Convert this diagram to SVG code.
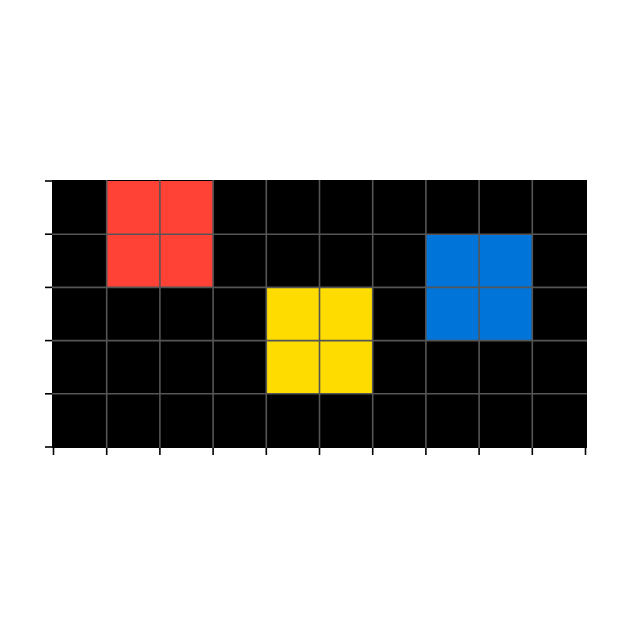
<svg xmlns="http://www.w3.org/2000/svg" width="629" height="629" viewBox="0 0 629 629">
<style>
.grid line{stroke:#555555;stroke-width:1.6}
.ticks line{stroke:#000000;stroke-width:1.6}
</style>
<rect width="629" height="629" fill="#ffffff"/>
<rect x="52" y="180" width="535" height="268" fill="#000000"/>
<g id="red">
<rect x="106.7" y="181" width="106.4" height="106.4" fill="#FF4136"/>
</g>
<g id="yellow">
<rect x="266.3" y="287.4" width="106.4" height="106.4" fill="#FFDC00"/>
</g>
<g id="blue">
<rect x="425.9" y="234.2" width="106.4" height="106.4" fill="#0074D9"/>
</g>
<g class="grid">
<line x1="106.7" y1="180" x2="106.7" y2="448"/>
<line x1="159.9" y1="180" x2="159.9" y2="448"/>
<line x1="213.1" y1="180" x2="213.1" y2="448"/>
<line x1="266.3" y1="180" x2="266.3" y2="448"/>
<line x1="319.5" y1="180" x2="319.5" y2="448"/>
<line x1="372.7" y1="180" x2="372.7" y2="448"/>
<line x1="425.9" y1="180" x2="425.9" y2="448"/>
<line x1="479.1" y1="180" x2="479.1" y2="448"/>
<line x1="532.3" y1="180" x2="532.3" y2="448"/>
<line x1="52" y1="234.2" x2="587" y2="234.2"/>
<line x1="52" y1="287.4" x2="587" y2="287.4"/>
<line x1="52" y1="340.6" x2="587" y2="340.6"/>
<line x1="52" y1="393.8" x2="587" y2="393.8"/>
</g>
<g class="ticks">
<line x1="45" y1="181" x2="52" y2="181"/>
<line x1="45" y1="234.2" x2="52" y2="234.2"/>
<line x1="45" y1="287.4" x2="52" y2="287.4"/>
<line x1="45" y1="340.6" x2="52" y2="340.6"/>
<line x1="45" y1="393.8" x2="52" y2="393.8"/>
<line x1="45" y1="447" x2="52" y2="447"/>
<line x1="53.5" y1="448" x2="53.5" y2="455"/>
<line x1="106.7" y1="448" x2="106.7" y2="455"/>
<line x1="159.9" y1="448" x2="159.9" y2="455"/>
<line x1="213.1" y1="448" x2="213.1" y2="455"/>
<line x1="266.3" y1="448" x2="266.3" y2="455"/>
<line x1="319.5" y1="448" x2="319.5" y2="455"/>
<line x1="372.7" y1="448" x2="372.7" y2="455"/>
<line x1="425.9" y1="448" x2="425.9" y2="455"/>
<line x1="479.1" y1="448" x2="479.1" y2="455"/>
<line x1="532.3" y1="448" x2="532.3" y2="455"/>
<line x1="585.5" y1="448" x2="585.5" y2="455"/>
</g>
</svg>
